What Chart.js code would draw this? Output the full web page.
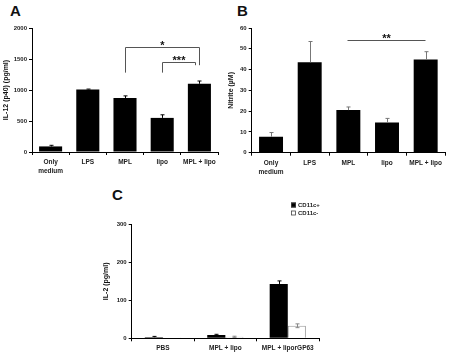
<!DOCTYPE html>
<html>
<head>
<meta charset="utf-8">
<script src="https://cdn.jsdelivr.net/npm/chart.js@4.4.1/dist/chart.umd.min.js"></script>
<style>
  body { margin: 0; background: #fff; width: 449px; height: 354px; position: relative; overflow: hidden; }
  canvas { position: absolute; }
  .letter { position: absolute; font: bold 15px 'Liberation Sans', Arial, sans-serif; line-height: 15px; color: #111; }
</style>
</head>
<body>
<div class="letter" style="left:10px;top:3px">A</div>
<div class="letter" style="left:237px;top:3px">B</div>
<div class="letter" style="left:112px;top:187px">C</div>
<canvas id="chartA" width="225" height="180" style="left:0;top:0"></canvas>
<canvas id="chartB" width="224" height="180" style="left:225px;top:0"></canvas>
<canvas id="chartC" width="349" height="174" style="left:100px;top:180px"></canvas>
<script>
// Panel A: IL-12 (p40)
const groupsAB = [['Only', 'medium'], 'LPS', 'MPL', 'lipo', 'MPL + lipo']
const il12 = [90, 1010, 870, 550, 1100]
const il12Err = [18, 5, 35, 50, 45]
const il12Ticks = [0, 500, 1000, 1500, 2000]
// significance brackets: category position + level in data units
const bracketsA = [
  { from: 2, to: 4, top: 1690, legs: [1280, 1400], text: '*' },
  { from: 3, to: 3.87, top: 1450, legs: [1280, 1400], text: '***' }
]

// Panel B: nitrite
const nitrite = [7.7, 43.5, 20.5, 14.5, 44.8]
const nitriteErr = [2.0, 10.0, 1.5, 2.0, 3.8]
const nitriteTicks = [0, 10, 20, 30, 40, 50, 60]
const bracketsB = [
  { from: 1.97, to: 3.98, top: 54, legs: null, text: '**' }
]

// Panel C: IL-2
const groupsC = ['PBS', 'MPL + lipo', 'MPL + liporGP63']
const il2Pos = [3, 9, 143]
const il2PosErr = [2, 1.5, 8]
const il2Neg = [0.5, 4, 33]
const il2NegErr = [0, 1.5, 5]
const il2Ticks = [0, 100, 200, 300]

const FONT = "'Liberation Sans', Arial, sans-serif"
const TEXT = '#222'

const errorBars = {
  id: 'errbars',
  afterDatasetsDraw(chart, args, opts) {
    const ctx = chart.ctx
    const y = chart.scales.y
    ;(opts.sets || []).forEach((s, di) => {
      const meta = chart.getDatasetMeta(di)
      const vals = chart.data.datasets[di].data
      ctx.save()
      ctx.strokeStyle = s.color
      ctx.lineWidth = 1
      meta.data.forEach((bar, i) => {
        const e = s.errs[i]
        if (!e) return
        const x = Math.round(bar.x) + 0.5
        const yt = y.getPixelForValue(vals[i] + e)
        const yb = s.both ? y.getPixelForValue(vals[i] - e) : y.getPixelForValue(vals[i])
        ctx.beginPath()
        ctx.moveTo(x, yb)
        ctx.lineTo(x, yt)
        ctx.moveTo(x - 2, yt)
        ctx.lineTo(x + 2, yt)
        if (s.both) {
          ctx.moveTo(x - 2, yb)
          ctx.lineTo(x + 2, yb)
        }
        ctx.stroke()
      })
      ctx.restore()
    })
  }
}

const brackets = {
  id: 'brackets',
  afterDraw(chart, args, opts) {
    const ctx = chart.ctx
    const x = chart.scales.x
    const y = chart.scales.y
    ;(opts.items || []).forEach(b => {
      const x1 = Math.round(x.getPixelForValue(b.from)) + 0.5
      const x2 = Math.round(x.getPixelForValue(b.to)) + 0.5
      const yt = Math.round(y.getPixelForValue(b.top)) + 0.5
      ctx.save()
      ctx.strokeStyle = '#555'
      ctx.lineWidth = 1
      ctx.beginPath()
      if (b.legs) {
        ctx.moveTo(x1, y.getPixelForValue(b.legs[0]))
        ctx.lineTo(x1, yt)
        ctx.lineTo(x2, yt)
        ctx.lineTo(x2, y.getPixelForValue(b.legs[1]))
      } else {
        ctx.moveTo(x1, yt)
        ctx.lineTo(x2, yt)
      }
      ctx.stroke()
      ctx.fillStyle = '#111'
      ctx.font = 'bold 11px ' + FONT
      ctx.textAlign = 'center'
      ctx.textBaseline = 'alphabetic'
      ctx.fillText(b.text, (x1 + x2) / 2, yt + 1)
      ctx.restore()
    })
  }
}

const keyBox = {
  id: 'keybox',
  afterDraw(chart, args, opts) {
    if (!opts.show) return
    const ctx = chart.ctx
    ctx.save()
    ctx.font = 'bold 6px ' + FONT
    ctx.textBaseline = 'middle'
    chart.data.datasets.forEach((ds, i) => {
      const bx = opts.x
      const by = opts.y + i * 8
      ctx.fillStyle = ds.backgroundColor
      ctx.fillRect(bx, by - 2.5, 5, 5)
      ctx.strokeStyle = '#444'
      ctx.lineWidth = 0.8
      ctx.strokeRect(bx + 0.5, by - 2, 4, 4)
      ctx.fillStyle = '#222'
      ctx.fillText(ds.label, bx + 7, by + 0.5)
    })
    ctx.restore()
  }
}

function makeChart(id, cfg) {
  return new Chart(document.getElementById(id), {
    type: 'bar',
    data: { labels: cfg.labels, datasets: cfg.datasets },
    plugins: [errorBars, brackets, keyBox],
    options: {
      responsive: false,
      animation: false,
      layout: { padding: { left: 0, top: cfg.top, right: cfg.right, bottom: 0 } },
      plugins: {
        legend: { display: false },
        tooltip: { enabled: false },
        errbars: { sets: cfg.errs },
        brackets: { items: cfg.brackets || [] },
        keybox: cfg.key || { show: false }
      },
      scales: {
        x: {
          grid: { drawOnChartArea: false, offset: true, tickLength: 3, color: '#000' },
          border: { color: '#000' },
          ticks: { color: TEXT, font: { family: FONT, size: 6.5, weight: 'bold', lineHeight: 1.35 }, padding: 3, maxRotation: 0, autoSkip: false },
          afterFit(s) { s.height = cfg.xh }
        },
        y: {
          min: 0,
          max: cfg.ticks[cfg.ticks.length - 1],
          afterBuildTicks(s) { s.ticks = cfg.ticks.map(v => ({ value: v })) },
          grid: { drawOnChartArea: false, tickLength: 3, color: '#000' },
          border: { color: '#000' },
          ticks: { color: TEXT, font: { family: FONT, size: 6, weight: 'bold' }, padding: 2, callback: v => String(v) },
          title: { display: true, text: cfg.ytitle, color: '#111', font: { family: FONT, size: 7, weight: 'bold' }, padding: { top: 2, bottom: 2 } },
          afterFit(s) { s.width = cfg.yw }
        }
      }
    }
  })
}

makeChart('chartA', {
  labels: groupsAB,
  datasets: [{ data: il12, backgroundColor: '#000', barPercentage: 0.62, categoryPercentage: 1 }],
  errs: [{ errs: il12Err, color: '#000', both: false }],
  brackets: bracketsA,
  ticks: il12Ticks,
  ytitle: 'IL-12 (p40) (pg/ml)',
  top: 28, right: 7, xh: 28, yw: 32
})

makeChart('chartB', {
  labels: groupsAB,
  datasets: [{ data: nitrite, backgroundColor: '#000', barPercentage: 0.62, categoryPercentage: 1 }],
  errs: [{ errs: nitriteErr, color: '#777', both: false }],
  brackets: bracketsB,
  ticks: nitriteTicks,
  ytitle: 'Nitrite (µM)',
  top: 28, right: 4, xh: 27.3, yw: 26.7
})

makeChart('chartC', {
  labels: groupsC,
  datasets: [
    { label: 'CD11c+', data: il2Pos, backgroundColor: '#000', borderColor: '#000', borderWidth: 0, barPercentage: 1, categoryPercentage: 0.58 },
    { label: 'CD11c-', data: il2Neg, backgroundColor: '#fff', borderColor: '#999', borderWidth: 1, barPercentage: 1, categoryPercentage: 0.58 }
  ],
  errs: [
    { errs: il2PosErr, color: '#000', both: false },
    { errs: il2NegErr, color: '#888', both: true }
  ],
  key: { show: true, x: 191, y: 25 },
  ticks: il2Ticks,
  ytitle: 'IL-2 (pg/ml)',
  top: 44.3, right: 130, xh: 15.7, yw: 31.7
})
</script>
</body>
</html>
